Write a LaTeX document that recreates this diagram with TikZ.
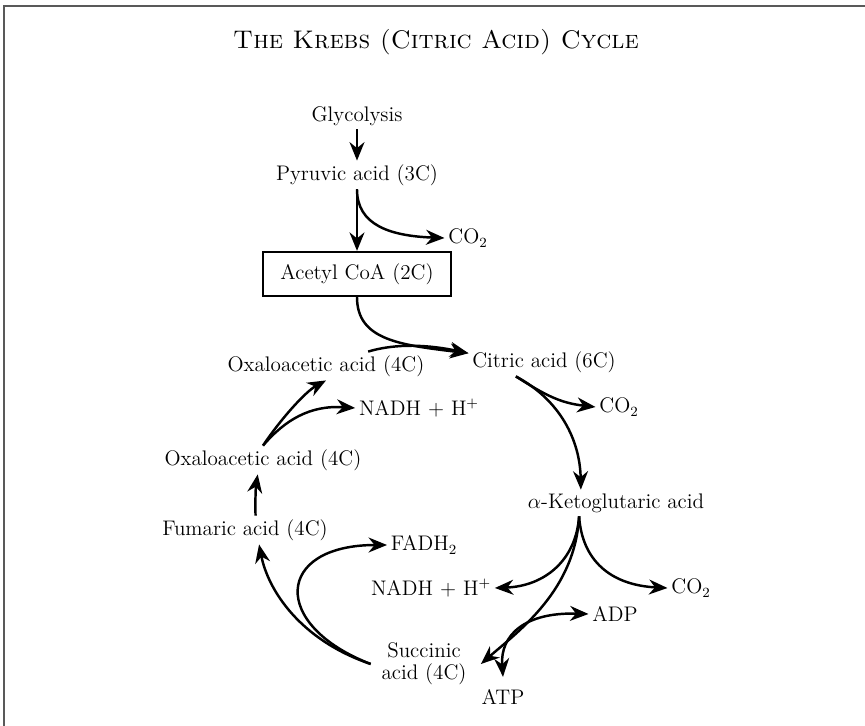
\documentclass[tikz,border=0pt]{standalone}
\usepackage{fontspec}
\usetikzlibrary{arrows.meta}
\tikzset{
  lbl/.style={font={\fontsize{12}{12.5}\selectfont}, inner sep=2pt},
  flow/.style={-{Stealth[length=10.5pt,width=8.5pt]}, line width=1.4pt},
  twoway/.style={{Stealth[length=10.5pt,width=8.5pt]}-{Stealth[length=10.5pt,width=8.5pt]}, line width=1.4pt},
}
\begin{document}
\begin{tikzpicture}[x=0.02cm,y=-0.02cm]
  \useasboundingbox (0,0) rectangle (865,726);
  % frame
  \draw[black!65,line width=1.2pt] (4,726) -- (4,6) -- (865,6);
  \node[font={\fontsize{14.5}{17}\selectfont}] (title) at (436,42) {\textsc{The Krebs (Citric Acid) Cycle}};
  % entry from glycolysis
  \node[lbl] (gly) at (357,116) {Glycolysis};
  \node[lbl] (pyr) at (357,175) {Pyruvic acid (3C)};
  \node[lbl] (co2a) at (468,238) {CO$_2$};
  \node[lbl,draw,line width=1.3pt,minimum width=188*0.02cm,minimum height=44*0.02cm] (acoa) at (357,274) {Acetyl CoA (2C)};
  \draw[flow] (gly.south) -- (pyr.north);
  \draw[flow] (pyr.south) -- (acoa.north);
  \draw[flow] (pyr.south) .. controls (357,225) and (390,236) .. (co2a.west);
  % the cycle
  \node[lbl] (cit) at (544,362) {Citric acid (6C)};
  \node[lbl] (oxa1) at (326,366) {Oxaloacetic acid (4C)};
  \node[lbl] (nadh1) at (419,408) {NADH + H$^+$};
  \node[lbl] (co2b) at (619,407) {CO$_2$};
  \node[lbl] (oxa2) at (263,460) {Oxaloacetic acid (4C)};
  \node[lbl] (akg) at (616,503) {$\alpha$-Ketoglutaric acid};
  \node[lbl] (fum) at (245,530) {Fumaric acid (4C)};
  \node[lbl] (fadh) at (424,545) {FADH$_2$};
  \node[lbl] (nadh2) at (431,588) {NADH + H$^+$};
  \node[lbl] (co2c) at (691,588) {CO$_2$};
  \node[lbl] (adp) at (615,614) {ADP};
  \node[lbl,align=center] (succ) at (424,664) {Succinic\\acid (4C)};
  \node[lbl] (atp) at (503,697) {ATP};
  \draw[flow] (acoa.south) .. controls (357,340) and (400,345) .. ([yshift=5pt]cit.west);
  \draw[flow] ([xshift=24pt]oxa1.north) .. controls (390,345) and (420,343) .. ([yshift=5pt]cit.west);
  \draw[flow] ([xshift=-16pt]cit.south) .. controls (545,395) and (560,403) .. (co2b.west);
  \draw[flow] ([xshift=-16pt]cit.south) .. controls (560,400) and (580,440) .. ([xshift=-20pt]akg.north);
  \draw[flow] ([xshift=-21pt]akg.south) .. controls (576,560) and (545,586) .. (nadh2.east);
  \draw[flow] ([xshift=-21pt]akg.south) .. controls (582,560) and (610,585) .. (co2c.west);
  \draw[flow] ([xshift=-21pt]akg.south) .. controls (575,590) and (520,630) .. ([xshift=6pt]succ.east);
  \draw[twoway] ([yshift=5pt]atp.north) .. controls (500,635) and (525,612) .. (adp.west);
  \draw[flow] ([xshift=-4pt]succ.west) .. controls (300,640) and (268,590) .. ([xshift=8pt]fum.south);
  \draw[flow] ([xshift=-4pt]succ.west) .. controls (270,625) and (275,545) .. (fadh.west);
  \draw[flow] ([xshift=6pt]fum.north) .. controls (255,500) and (256,485) .. ([xshift=-3pt]oxa2.south);
  \draw[flow] (oxa2.north) .. controls (280,420) and (305,392) .. (oxa1.south);
  \draw[flow] (oxa2.north) .. controls (285,420) and (310,405) .. (nadh1.west);
\end{tikzpicture}
\end{document}
